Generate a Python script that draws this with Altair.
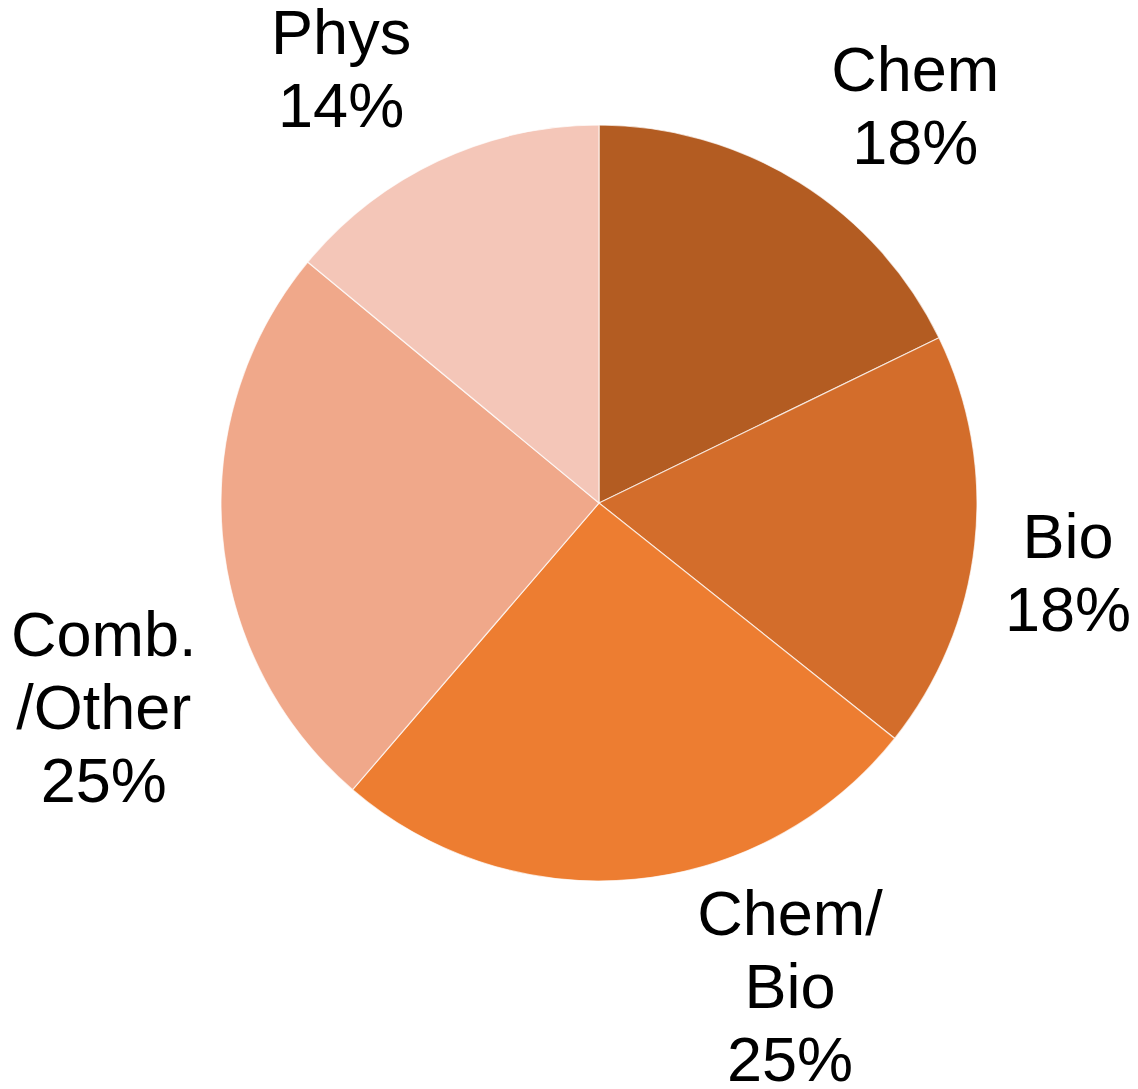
import altair as alt
import pandas as pd

categories = ["Chem", "Bio", "Chem/Bio", "Comb./Other", "Phys"]
shares = [17.8, 17.9, 25.6, 24.7, 14.0]
pct_labels = ["18%", "18%", "25%", "25%", "14%"]
name_lines = [["Chem"], ["Bio"], ["Chem/", "Bio"], ["Comb.", "/Other"], ["Phys"]]
colors = ["#B35C22", "#D36D2B", "#ED7D31", "#F0A88A", "#F4C6B8"]

df = pd.DataFrame({
    "category": categories,
    "share": shares,
    "order": list(range(len(categories))),
    "label": ["\n".join(n + [p]) for n, p in zip(name_lines, pct_labels)],
})

color = alt.Color("category:N", scale=alt.Scale(domain=categories, range=colors), legend=None)

arc = alt.Chart(df).mark_arc(radius=378, stroke="white", strokeWidth=1.2, strokeOpacity=0.7).encode(
    theta=alt.Theta("share:Q", stack=True, scale=alt.Scale(domain=[0, 100])),
    order=alt.Order("order:Q"),
    color=color,
)

LH = 73
# label nudges (dx, dy) relative to the slice midpoint at radius 500
nudges = {
    "Chem": (51, 29),
    "Bio": (-28, 18),
    "Chem/Bio": (144, -12),
    "Comb./Other": (3, 165),
    "Phys": (-45, 21),
}

text_layers = []
for cat, lines in zip(categories, name_lines):
    dx, dy = nudges[cat]
    nlines = len(lines) + 1
    dy = dy - (nlines - 1) * LH / 2
    t = alt.Chart(df).transform_window(
        cum="sum(share)", sort=[alt.SortField("order")], frame=[None, 0]
    ).transform_calculate(
        mid="datum.cum - datum.share / 2"
    ).transform_filter(
        alt.datum.category == cat
    ).mark_text(
        radius=500, dx=dx, dy=dy, fontSize=63, font="Liberation Sans",
        lineHeight=LH, lineBreak="\n", color="black", align="center", baseline="middle",
    ).encode(
        theta=alt.Theta("mid:Q", stack=None, scale=alt.Scale(domain=[0, 100])),
        text="label:N",
    )
    text_layers.append(t)

chart = alt.layer(arc, *text_layers).properties(
    width=1062, height=990,
    padding={"left": 60, "top": 0, "right": 0, "bottom": 90},
    autosize="none",
).configure_view(stroke=None)

chart.save("out.html", embed_options={"renderer": "svg", "actions": False})
